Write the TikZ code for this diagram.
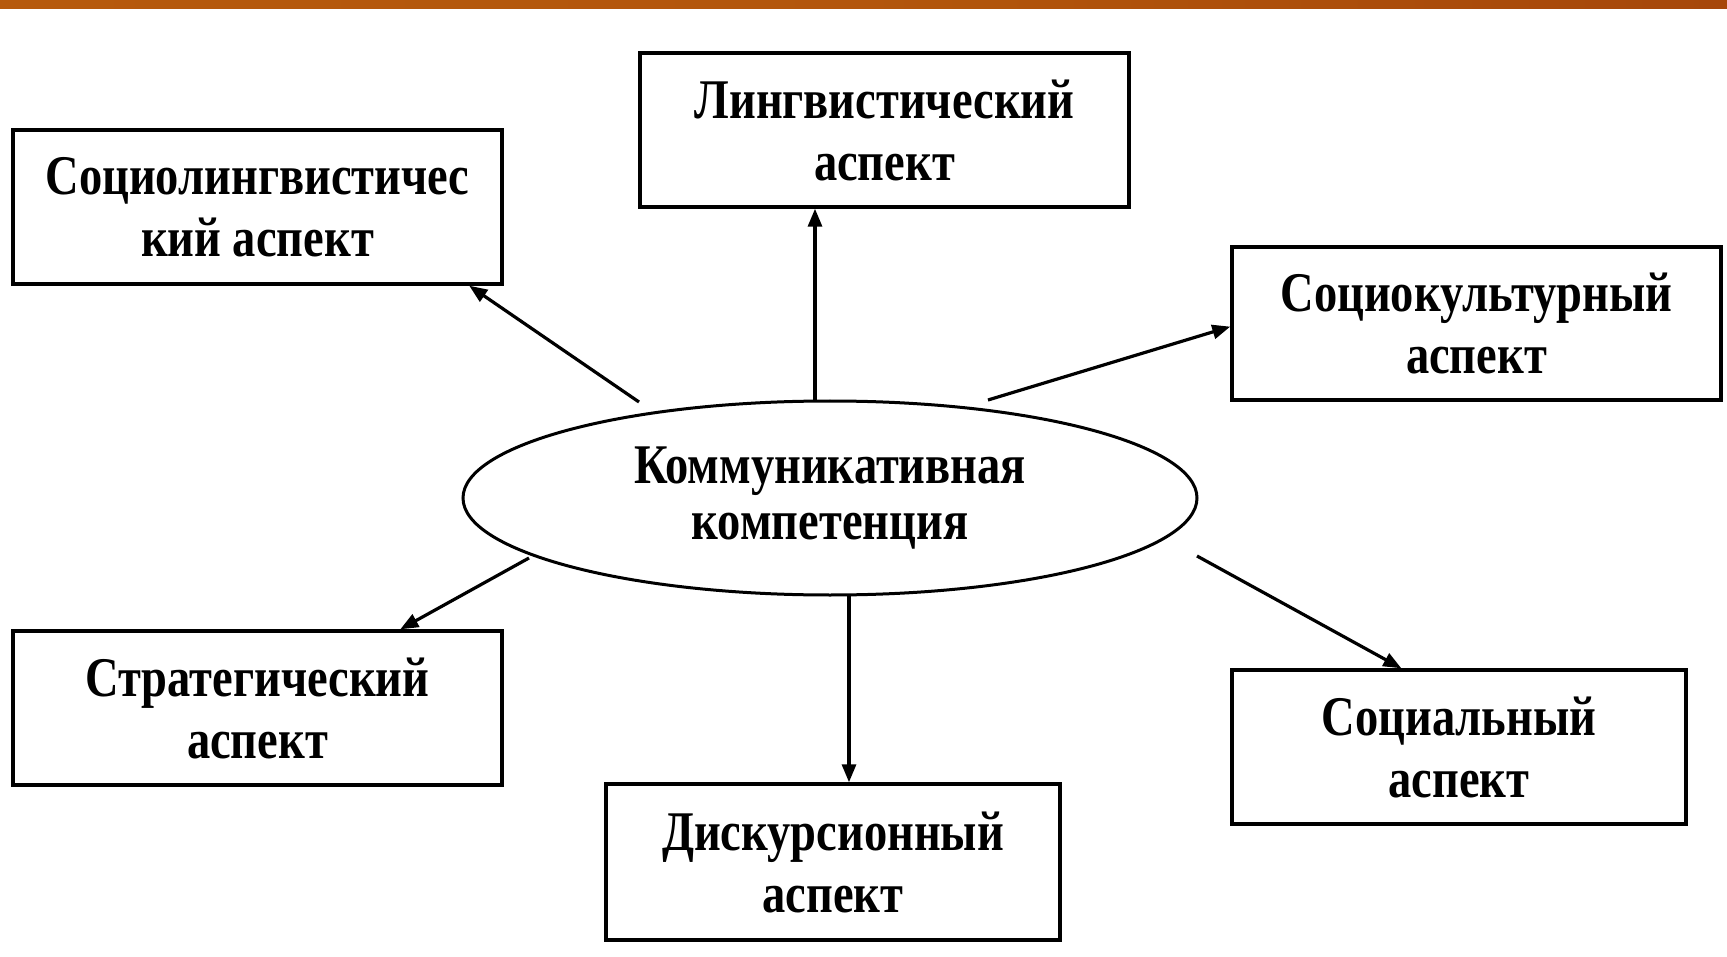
\documentclass[tikz,border=0pt]{standalone}
\usepackage{fontspec}
\setmainfont{Liberation Serif}[FakeStretch=0.83]
\usetikzlibrary{shapes.geometric,arrows.meta,calc}
\definecolor{barA}{HTML}{B65A0C}
\definecolor{barB}{HTML}{A6470A}
\begin{document}
\begin{tikzpicture}[x=1pt,y=-1pt,
  aspbox/.style={draw=black,line width=3.4pt,fill=white,inner sep=0pt,align=center,
    font=\fontsize{56}{62}\selectfont\bfseries},
  centre/.style={ellipse,draw=black,line width=3pt,fill=white,inner sep=0pt,align=center,
    font=\fontsize{56}{56}\selectfont\bfseries},
  arr/.style={line width=3.2pt,-{Triangle[length=18pt,width=14pt]}}]
\useasboundingbox (0,0) rectangle (1727,957);
\fill[white] (0,0) rectangle (1727,957);
\shade[left color=barA,right color=barB,middle color=barA!80!barB] (0,0) rectangle (1727,9);
% nodes
\node[aspbox,minimum width=489pt,minimum height=154pt] (sl) at (257.5,207) {Социолингвистичес\\кий аспект};
\node[aspbox,minimum width=489pt,minimum height=154pt] (ling) at (884.5,130) {Лингвистический\\аспект};
\node[aspbox,minimum width=489pt,minimum height=153pt] (sk) at (1476.5,323.5) {Социокультурный\\аспект};
\node[aspbox,minimum width=489pt,minimum height=154pt] (str) at (257.5,708) {Стратегический\\аспект};
\node[aspbox,minimum width=454pt,minimum height=156pt] (disk) at (833,862) {Дискурсионный\\аспект};
\node[aspbox,minimum width=454pt,minimum height=154pt] (soc) at (1459,747) {Социальный\\аспект};
\node[centre,minimum width=734pt,minimum height=194pt] (ell) at (830,498) {Коммуникативная\\компетенция};
% start points
\coordinate (s1) at (639,402);
\coordinate (s2) at (815,401);
\coordinate (s3) at (988,400);
\coordinate (s4) at (529,558);
\coordinate (s5) at (849,595);
\coordinate (s6) at (1197,556);
% connectors
\draw[arr] (s1) -- ($(sl.south west)!0.93!(sl.south east)$);
\draw[arr] (s2) -- (s2 |- ling.south);
\draw[arr] (s3) -- ($(sk.north west)!0.52!(sk.south west)$);
\draw[arr] (s4) -- ($(str.north west)!0.79!(str.north east)$);
\draw[arr] (s5) -- (s5 |- disk.north);
\draw[arr] (s6) -- ($(soc.north west)!0.374!(soc.north east)$);
\end{tikzpicture}
\end{document}
